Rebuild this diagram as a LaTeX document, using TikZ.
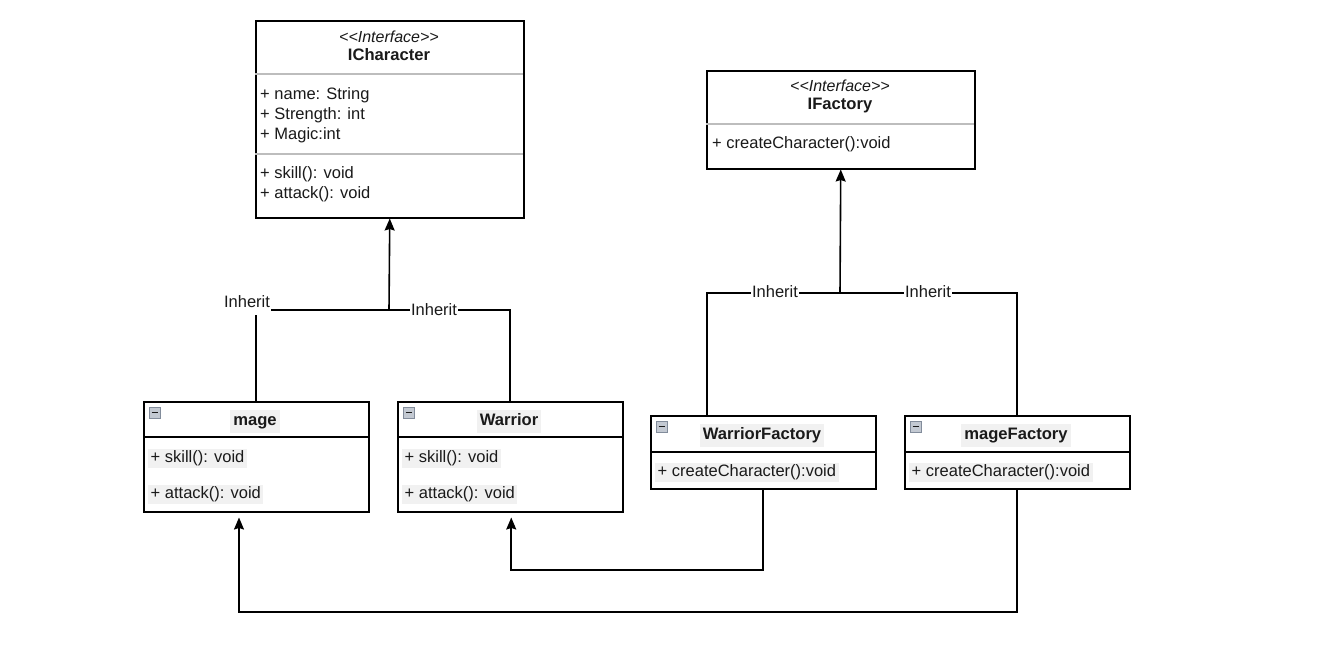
\documentclass[tikz,border=0pt]{standalone}
\usepackage{fontspec}
\setmainfont{Liberation Sans}[Ligatures=NoCommon]
\usetikzlibrary{arrows.meta,calc}
\definecolor{txt}{HTML}{1A1A1A}
\definecolor{hl}{HTML}{F1F1F1}
\definecolor{sep}{HTML}{BDBDBD}
\begin{document}
\begin{tikzpicture}[x=1pt,y=-1pt,
  box/.style={draw=black,line width=1.5pt,fill=white,anchor=north west,inner sep=0pt,rectangle},
  ttl/.style={font=\fontsize{16.6}{19}\selectfont\bfseries,text=txt,inner sep=2pt,text height=12pt,text depth=3.5pt,yshift=-1.5pt},
  stereo/.style={font=\fontsize{16}{19}\selectfont\itshape,text=txt,inner sep=1pt,yshift=-1.5pt},
  item/.style={font=\fontsize{16.5}{19}\selectfont,text=txt,anchor=west,inner sep=1pt,text height=12pt,text depth=3.5pt,yshift=-1.5pt},
  hlitem/.style={item,fill=hl,inner xsep=2.5pt,inner ysep=2pt},
  hlttl/.style={ttl,fill=hl,inner xsep=3pt,inner ysep=4pt},
  conn/.style={draw=black,line width=1.6pt},
  arr/.style={conn,-{Stealth[length=12pt,width=10pt,inset=1.5pt]}},
  lbl/.style={font=\fontsize{16.5}{19}\selectfont,text=txt,fill=white,inner xsep=1pt,inner ysep=1pt,text height=12pt,text depth=3.5pt},
  icon/.style={draw={rgb,255:red,130;green,140;blue,155},fill={rgb,255:red,195;green,201;blue,210},line width=0.9pt,minimum size=11pt,inner sep=0pt,anchor=north west}
]
\useasboundingbox (0,0) rectangle (1340,646);

% ICharacter
\node[box,minimum width=268pt,minimum height=197pt] (ichar) at (255,20) {};
\draw[sep,line width=1.2pt] (255,74) -- (523,74);
\draw[sep,line width=1.2pt] (255,154) -- (523,154);
\node[stereo] (ichst) at (389,35) {{<}{<}Interface{>}{>}};
\node[ttl] (ichttl) at (389,55) {ICharacter};
\node[item] (a1) at (259,94) {+ name: String};
\node[item] (a2) at (259,114) {+ Strength: int};
\node[item] (a3) at (259,134) {+ Magic:int};
\node[item] (m1) at (259,173) {+ skill(): void};
\node[item] (m2) at (259,193) {+ attack(): void};

% IFactory
\node[box,minimum width=268pt,minimum height=98pt] (ifac) at (706,70) {};
\draw[sep,line width=1.2pt] (706,124) -- (974,124);
\node[stereo] (ifst) at (840,84) {{<}{<}Interface{>}{>}};
\node[ttl] (ifttl) at (840,104) {IFactory};
\node[item] (f1) at (711,143) {+ createCharacter():void};

% mage
\node[box,minimum width=225pt,minimum height=110pt] (mage) at (143,401) {};
\draw[conn] (143,437) -- (368,437);
\node[icon] (mic) at (149,407) {};
\draw[line width=1.8pt,txt] (151.5,412.5) -- (157.5,412.5);
\node[hlttl] (mttl) at (255,420) {mage};
\node[hlitem] (ms) at (148,457) {+ skill(): void};
\node[hlitem] (ma) at (148,493) {+ attack(): void};

% Warrior
\node[box,minimum width=225pt,minimum height=110pt] (war) at (397,401) {};
\draw[conn] (397,437) -- (622,437);
\node[icon] (wic) at (403,407) {};
\draw[line width=1.8pt,txt] (405.5,412.5) -- (411.5,412.5);
\node[hlttl] (wttl) at (509,420) {Warrior};
\node[hlitem] (ws) at (402,457) {+ skill(): void};
\node[hlitem] (wa) at (402,493) {+ attack(): void};

% WarriorFactory
\node[box,minimum width=225pt,minimum height=73pt] (wf) at (650,415) {};
\draw[conn] (650,452) -- (875,452);
\node[icon] (wfic) at (656,421) {};
\draw[line width=1.8pt,txt] (658.5,426.5) -- (664.5,426.5);
\node[hlttl] (wfttl) at (762,434) {WarriorFactory};
\node[hlitem] (wfc) at (655,471) {+ createCharacter():void};

% mageFactory
\node[box,minimum width=225pt,minimum height=73pt] (mf) at (904,415) {};
\draw[conn] (904,452) -- (1129,452);
\node[icon] (mfic) at (910,421) {};
\draw[line width=1.8pt,txt] (912.5,426.5) -- (918.5,426.5);
\node[hlttl] (mfttl) at (1016,434) {mageFactory};
\node[hlitem] (mfc) at (909,471) {+ createCharacter():void};

% connectors: inheritance to ICharacter
\coordinate (j1) at (389,310);
\draw[conn] (mage.north) |- (j1);
\draw[conn] (war.north) |- (j1);
\draw[arr] (j1) -- (ichar.south);
\node[lbl,inner ysep=4pt] (l1) at (247,303) {Inherit};
\node[lbl] (l2) at (434,311) {Inherit};

% connectors: inheritance to IFactory
\coordinate (j2) at (840,293);
\coordinate (wftop) at ($(wf.north west)+(57,0)$);
\draw[conn] (wftop) |- (j2);
\draw[conn] (mf.north) |- (j2);
\draw[arr] (j2) -- (ifac.south);
\node[lbl] (l3) at (775,293) {Inherit};
\node[lbl] (l4) at (928,293) {Inherit};

% factory creates product
\coordinate (wtip) at ($(war.south)+(1,5)$);
\draw[arr] (wf.south) |- (0,570 -| wtip) -- (wtip);
\coordinate (mtip) at ($(mage.south west)+(96,5)$);
\draw[arr] (mf.south) |- (0,612 -| mtip) -- (mtip);
\end{tikzpicture}
\end{document}
